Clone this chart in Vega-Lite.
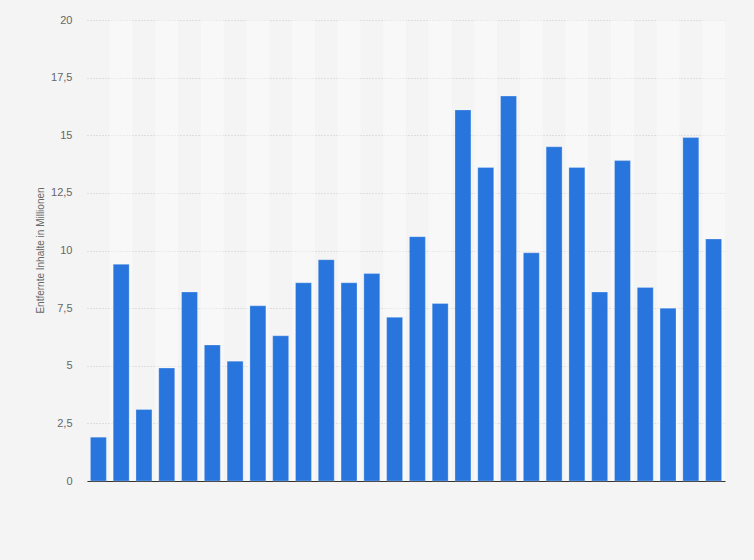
{
  "$schema": "https://vega.github.io/schema/vega-lite/v6.json",
  "width": 638,
  "height": 461,
  "autosize": {"type": "none"},
  "padding": {"left": 87, "top": 20, "right": 29, "bottom": 79},
  "background": "#f4f4f4",
  "config": {
    "view": {"stroke": null},
    "font": "Liberation Sans",
    "axisY": {
      "domain": false, "ticks": false, "grid": true,
      "labelPadding": 15, "labelFontSize": 11, "labelColor": "#666666",
      "gridColor": "#c8c8c8", "gridDash": [1, 2], "gridWidth": 1, "gridOpacity": 1,
      "titleFontSize": 10, "titleFontWeight": "normal", "titleColor": "#666666",
      "titleAngle": -90, "titleX": -47, "titleY": 230, "titleAlign": "center", "titleBaseline": "middle"
    }
  },
  "data": {
    "values": [
      {"n": 1, "v": 1.9}, {"n": 2, "v": 9.4}, {"n": 3, "v": 3.1}, {"n": 4, "v": 4.9},
      {"n": 5, "v": 8.2}, {"n": 6, "v": 5.9}, {"n": 7, "v": 5.2}, {"n": 8, "v": 7.6},
      {"n": 9, "v": 6.3}, {"n": 10, "v": 8.6}, {"n": 11, "v": 9.6}, {"n": 12, "v": 8.6},
      {"n": 13, "v": 9.0}, {"n": 14, "v": 7.1}, {"n": 15, "v": 10.6}, {"n": 16, "v": 7.7},
      {"n": 17, "v": 16.1}, {"n": 18, "v": 13.6}, {"n": 19, "v": 16.7}, {"n": 20, "v": 9.9},
      {"n": 21, "v": 14.5}, {"n": 22, "v": 13.6}, {"n": 23, "v": 8.2}, {"n": 24, "v": 13.9},
      {"n": 25, "v": 8.4}, {"n": 26, "v": 7.5}, {"n": 27, "v": 14.9}, {"n": 28, "v": 10.5}
    ]
  },
  "layer": [
    {
      "mark": {"type": "rect", "fill": "#ffffff"},
      "encoding": {
        "x": {"field": "n", "type": "ordinal", "scale": {"paddingInner": 0, "paddingOuter": 0}, "axis": null},
        "y": {
          "datum": 20, "type": "quantitative", "scale": {"domain": [0, 20]},
          "title": "Entfernte Inhalte in Millionen",
          "axis": {
            "values": [0, 2.5, 5, 7.5, 10, 12.5, 15, 17.5, 20],
            "labelExpr": "replace(toString(datum.value), '.', ',')"
          }
        },
        "y2": {"datum": 0},
        "opacity": {"condition": {"test": "datum.n % 2 == 0", "value": 0.4}, "value": 0}
      }
    },
    {
      "mark": {"type": "bar", "color": "#2876dd", "stroke": "#ffffff", "strokeOpacity": 0.25, "strokeWidth": 1},
      "encoding": {
        "x": {
          "field": "n", "type": "ordinal",
          "scale": {"paddingInner": 0.3, "paddingOuter": 0.15},
          "axis": {"labels": false, "ticks": false, "title": null, "domainColor": "#333333", "domainWidth": 1}
        },
        "y": {
          "field": "v", "type": "quantitative",
          "scale": {"domain": [0, 20]},
          "title": "Entfernte Inhalte in Millionen",
          "axis": {
            "values": [0, 2.5, 5, 7.5, 10, 12.5, 15, 17.5, 20],
            "labelExpr": "replace(toString(datum.value), '.', ',')"
          }
        }
      }
    }
  ],
  "resolve": {"scale": {"x": "independent"}}
}
